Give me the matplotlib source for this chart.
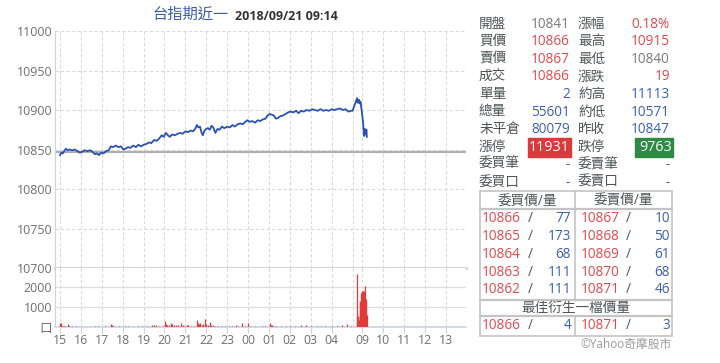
import matplotlib
matplotlib.use('Agg')
import matplotlib.pyplot as plt
from matplotlib.patches import Rectangle

plt.rcParams['font.family'] = ['Open Sans', 'Noto Sans CJK TC', 'DejaVu Sans']

title_name = '台指期近一'
title_time = '2018/09/21 09:14'
prev_close = 10847

# price line, night session 15:00-05:00 then day session 08:45-
price_times = [
    '15:00', '15:04', '15:08', '15:12', '15:17', '15:22', '15:28', '15:35', '15:42', '15:50',
    '15:57', '16:03', '16:10', '16:18', '16:26', '16:34', '16:40', '16:46', '16:52', '16:58',
    '17:05', '17:12', '17:20', '17:26', '17:32', '17:40', '17:48', '17:55', '18:02', '18:08',
    '18:15', '18:22', '18:30', '18:38', '18:45', '18:52', '19:00', '19:08', '19:16', '19:22',
    '19:30', '19:38', '19:45', '19:52', '19:58', '20:04', '20:10', '20:15', '20:22', '20:30',
    '20:38', '20:45', '20:52', '21:00', '21:08', '21:15', '21:22', '21:28', '21:33', '21:37',
    '21:42', '21:46', '21:50', '21:55', '22:00', '22:05', '22:10', '22:15', '22:20', '22:26',
    '22:32', '22:38', '22:45', '22:52', '23:00', '23:08', '23:15', '23:22', '23:30', '23:38',
    '23:45', '23:52', '23:58', '00:05', '00:12', '00:20', '00:28', '00:35', '00:42', '00:50',
    '00:56', '01:02', '01:08', '01:14', '01:20', '01:26', '01:32', '01:40', '01:48', '01:55',
    '02:02', '02:10', '02:18', '02:25', '02:32', '02:40', '02:48', '02:56', '03:04', '03:12',
    '03:20', '03:28', '03:36', '03:44', '03:52', '04:00', '04:08', '04:16', '04:24', '04:32',
    '04:40', '04:48', '04:55', '05:00',
    '08:45', '08:46', '08:47', '08:48', '08:49', '08:50', '08:51', '08:52', '08:53', '08:54',
    '08:55', '08:56', '08:57', '08:58', '08:59', '09:00', '09:01', '09:02', '09:03', '09:04',
    '09:05', '09:06', '09:07', '09:08', '09:09', '09:10', '09:11', '09:12', '09:13', '09:14',
]
price_values = [
    10843, 10846, 10845, 10848, 10851, 10849, 10850, 10849, 10850, 10848,
    10846, 10847, 10849, 10848, 10849, 10847, 10844, 10845, 10843, 10846,
    10845, 10848, 10849, 10854, 10853, 10855, 10853, 10854, 10850, 10851,
    10853, 10852, 10855, 10853, 10856, 10854, 10856, 10857, 10859, 10858,
    10862, 10861, 10864, 10868, 10866, 10871, 10868, 10866, 10869, 10868,
    10870, 10871, 10870, 10873, 10872, 10874, 10873, 10876, 10881, 10878,
    10879, 10872, 10868, 10874, 10876, 10877, 10875, 10880, 10878, 10871,
    10876, 10875, 10879, 10877, 10879, 10878, 10881, 10879, 10882, 10883,
    10882, 10885, 10887, 10885, 10886, 10884, 10887, 10886, 10888, 10889,
    10893, 10895, 10894, 10893, 10889, 10890, 10892, 10893, 10895, 10897,
    10898, 10897, 10899, 10896, 10899, 10898, 10900, 10899, 10901, 10900,
    10899, 10901, 10899, 10900, 10899, 10901, 10900, 10901, 10902, 10900,
    10901, 10898, 10899, 10899,
    10914, 10915, 10911, 10909, 10912, 10910, 10913, 10912, 10909, 10911,
    10908, 10910, 10906, 10903, 10900, 10897, 10893, 10889, 10885, 10879,
    10872, 10867, 10870, 10874, 10876, 10871, 10869, 10873, 10875, 10866,
]

vol_times = [
    '15:01', '15:03', '15:05', '15:08', '15:12', '15:15', '15:24', '15:27', '15:35', '15:45',
    '15:55', '16:05', '16:30', '16:40', '16:50', '17:00', '17:10', '17:27', '17:30', '17:35',
    '17:50', '18:06', '18:15', '18:44', '18:55', '19:10', '19:25', '19:31', '19:35', '19:45',
    '19:55', '20:02', '20:05', '20:08', '20:12', '20:19', '20:23', '20:27', '20:32', '20:38',
    '20:48', '20:52', '21:00', '21:04', '21:08', '21:15', '21:25', '21:32', '21:35', '21:38',
    '21:42', '21:47', '21:52', '21:55', '21:58', '22:04', '22:10', '22:14', '22:20', '22:25',
    '22:35', '22:45', '22:55', '23:05', '23:15', '23:25', '23:32', '23:44', '23:50', '00:01',
    '00:05', '00:20', '00:41', '00:50', '01:02', '01:05', '01:09', '01:14', '01:20', '01:35',
    '01:50', '02:00', '02:15', '02:31', '02:45', '03:00', '03:18', '03:30', '03:42', '04:00',
    '04:15', '04:29', '04:44', '04:55',
    '08:45', '08:46', '08:47', '08:48', '08:49', '08:50', '08:51', '08:52', '08:53', '08:54',
    '08:55', '08:56', '08:57', '08:58', '08:59', '09:00', '09:01', '09:02', '09:03', '09:04',
    '09:05', '09:06', '09:07', '09:08', '09:09', '09:10', '09:11', '09:12', '09:13', '09:14',
]
vol_values = [
    180, 200, 60, 50, 40, 60, 170, 50, 30, 30,
    25, 20, 20, 30, 30, 20, 30, 160, 90, 40,
    30, 70, 30, 50, 30, 30, 80, 120, 90, 40,
    60, 300, 150, 120, 80, 200, 140, 120, 90, 100,
    180, 90, 60, 110, 80, 40, 60, 330, 200, 150,
    180, 120, 160, 380, 140, 80, 260, 90, 100, 70,
    50, 50, 60, 40, 50, 80, 60, 200, 50, 210,
    60, 40, 70, 30, 210, 110, 80, 70, 40, 50,
    40, 30, 40, 110, 90, 30, 70, 30, 60, 30,
    40, 90, 130, 30,
    2650, 150, 500, 560, 520, 480, 300, 350, 1250, 1200,
    1300, 1150, 1280, 1700, 1780, 1750, 1800, 1720, 1780, 1700,
    1750, 1800, 1650, 2050, 1350, 1300, 1400, 1250, 650, 600,
]

price_ticks = [10700, 10750, 10800, 10850, 10900, 10950, 11000]
vol_ticks = [0, 1000, 2000]
vol_tick_labels = ['口', '1000', '2000']
hour_labels = ['15', '16', '17', '18', '19', '20', '21', '22', '23', '00',
               '01', '02', '03', '04', '09', '10', '11', '12', '13']

quote_labels_l = ['開盤', '買價', '賣價', '成交', '單量', '總量', '未平倉', '漲停', '委買筆', '委買口']
quote_values_l = ['10841', '10866', '10867', '10866', '2', '55601', '80079', '11931', '-', '-']
quote_labels_r = ['漲幅', '最高', '最低', '漲跌', '約高', '約低', '昨收', '跌停', '委賣筆', '委賣口']
quote_values_r = ['0.18%', '10915', '10840', '19', '11113', '10571', '10847', '9763', '-', '-']

bid_prices = [10866, 10865, 10864, 10863, 10862]
bid_qty = [77, 173, 68, 111, 111]
ask_prices = [10867, 10868, 10869, 10870, 10871]
ask_qty = [10, 50, 61, 68, 46]
best_bid = (10866, 4)
best_ask = (10871, 3)

RED = '#e5484d'
BLUE = '#3d5fb0'
GRAY = '#7a7a7a'
LABEL = '#4d5555'
LINE_BLUE = '#2a52b2'
VOL_RED = '#e03a3a'
GRID = '#dadada'
AXIS = '#c6d6ea'

colors_l = [GRAY, RED, RED, RED, BLUE, BLUE, BLUE, None, BLUE, BLUE]
colors_r = [RED, RED, GRAY, RED, BLUE, BLUE, BLUE, None, BLUE, BLUE]

DAY_START = 14.2


def to_pos(t):
    h, m = map(int, t.split(':'))
    v = h + m / 60
    if h >= 15:
        return v - 15
    if h < 8:
        return v + 9
    return DAY_START + v - 8.75


W, H = 720, 363
fig = plt.figure(figsize=(W / 100, H / 100), dpi=100)
left, right = 55 / W, 466 / W
ax = fig.add_axes([left, (H - 268) / H, right - left, (268 - 31) / H])
axv = fig.add_axes([left, (H - 327) / H, right - left, (327 - 268) / H], sharex=ax)

xlim = (-0.24, 19.43)
grid_x = [to_pos(h + ':00') for h in hour_labels] + [to_pos('05:00')]

# price panel
px = [to_pos(t) for t in price_times]
ax.plot(px, price_values, color=LINE_BLUE, lw=1.3, zorder=3)
ax.axhline(prev_close, color='#b0b0b0', lw=1.6, zorder=2)
ax.set_ylim(10700, 11000)
ax.set_xlim(*xlim)
ax.set_yticks(price_ticks)
ax.tick_params(axis='y', length=0, labelsize=9, labelcolor='#6e6e6e', pad=2)
ax.tick_params(axis='x', length=0, labelbottom=False)
for y in price_ticks[1:]:
    ax.axhline(y, color=GRID, lw=0.8, ls=(0, (3, 2)), zorder=1)
for x in grid_x:
    ax.axvline(x, color=GRID, lw=0.8, ls=(0, (3, 2)), zorder=1)
ax.axvline(xlim[1], color=GRID, lw=0.8, ls=(0, (3, 2)), zorder=1)
ax.axhline(10700, color='#cfcfcf', lw=2, zorder=2, clip_on=False)
for s in ['top', 'right', 'bottom']:
    ax.spines[s].set_visible(False)
ax.spines['left'].set_color(AXIS)

# volume panel
vx = [to_pos(t) for t in vol_times]
axv.vlines(vx, 0, vol_values, color=VOL_RED, lw=0.9, zorder=3)
axv.set_ylim(0, 2950)
axv.set_yticks(vol_ticks)
axv.set_yticklabels(vol_tick_labels)
for y in vol_ticks[1:]:
    axv.axhline(y, color='#dddddd', lw=0.9, zorder=1)
for x in grid_x:
    axv.axvline(x, color=GRID, lw=0.8, ls=(0, (3, 2)), zorder=1)
axv.axvline(xlim[1], color=GRID, lw=0.8, ls=(0, (3, 2)), zorder=1)
axv.set_xticks([to_pos(h + ':00') for h in hour_labels])
axv.set_xticklabels(hour_labels)
axv.tick_params(axis='y', length=0, labelsize=9, labelcolor='#6e6e6e', pad=2)
axv.tick_params(axis='x', length=4, color=AXIS, labelsize=8.8, labelcolor='#6e6e6e', pad=1)
for s in ['top', 'right']:
    axv.spines[s].set_visible(False)
axv.spines['left'].set_color(AXIS)
axv.spines['bottom'].set_color(AXIS)
axv.spines['bottom'].set_linewidth(1.2)

# overlay in pixel coordinates for title and quote panel
ov = fig.add_axes([0, 0, 1, 1])
ov.set_xlim(0, W)
ov.set_ylim(H, 0)
ov.axis('off')

ov.text(152, 15, title_name, color='#3a5ca8', fontsize=11, va='center', ha='left')
ov.text(235, 16, title_time, color='#333333', fontsize=9, fontweight='bold', va='center', ha='left')

fs = 9.8
row_y = [24 + i * 17.6 for i in range(len(quote_labels_l))]
for i, y in enumerate(row_y):
    ov.text(479, y, quote_labels_l[i], color=LABEL, fontsize=fs, va='center', ha='left')
    ov.text(578, y, quote_labels_r[i], color=LABEL, fontsize=fs, va='center', ha='left')
    if colors_l[i] is None:
        ov.add_patch(Rectangle((528, y - 9.5), 43, 19, color='#d93a3e'))
        ov.text(570, y, quote_values_l[i], color='white', fontsize=fs + 0.5, va='center', ha='right')
    else:
        ov.text(570, y, quote_values_l[i], color=colors_l[i], fontsize=fs, va='center', ha='right')
    if colors_r[i] is None:
        ov.add_patch(Rectangle((635, y - 9.5), 38, 19, color='#2d8a45'))
        ov.text(672, y, quote_values_r[i], color='white', fontsize=fs + 0.5, va='center', ha='right')
    else:
        ov.text(670, y, quote_values_r[i], color=colors_r[i], fontsize=fs, va='center', ha='right')

# order book table
tc = '#c4c4c4'
ov.add_patch(Rectangle((480, 191), 192, 145, fill=False, ec=tc, lw=1.2))
ov.plot([480, 672], [209, 209], color=tc, lw=1.6)
ov.plot([480, 672], [300, 300], color=tc, lw=1.6)
ov.plot([480, 672], [316, 316], color=tc, lw=1.6)
ov.plot([574.5, 574.5], [191, 300], color=tc, lw=1.2)
ov.plot([574.5, 574.5], [316, 336], color=tc, lw=1.2)
ov.text(527, 201, '委買價/量', color=LABEL, fontsize=fs, va='center', ha='center')
ov.text(623, 201, '委賣價/量', color=LABEL, fontsize=fs, va='center', ha='center')
book_y = [218.7 + i * 17.8 for i in range(len(bid_prices))]
for i, y in enumerate(book_y):
    ov.text(482, y, str(bid_prices[i]), color=RED, fontsize=fs, va='center', ha='left')
    ov.text(530, y, '/', color=LABEL, fontsize=fs, va='center', ha='center')
    ov.text(571, y, str(bid_qty[i]), color=BLUE, fontsize=fs, va='center', ha='right')
    ov.text(581, y, str(ask_prices[i]), color=RED, fontsize=fs, va='center', ha='left')
    ov.text(628, y, '/', color=LABEL, fontsize=fs, va='center', ha='center')
    ov.text(670, y, str(ask_qty[i]), color=BLUE, fontsize=fs, va='center', ha='right')
ov.text(576, 308, '最佳衍生一檔價量', color=LABEL, fontsize=fs, va='center', ha='center')
ov.text(482, 325.5, str(best_bid[0]), color=RED, fontsize=fs, va='center', ha='left')
ov.text(530, 325.5, '/', color=LABEL, fontsize=fs, va='center', ha='center')
ov.text(571, 325.5, str(best_bid[1]), color=BLUE, fontsize=fs, va='center', ha='right')
ov.text(581, 325.5, str(best_ask[0]), color=RED, fontsize=fs, va='center', ha='left')
ov.text(628, 325.5, '/', color=LABEL, fontsize=fs, va='center', ha='center')
ov.text(670, 325.5, str(best_ask[1]), color=BLUE, fontsize=fs, va='center', ha='right')
ov.text(672, 344, '©Yahoo奇摩股市', color='#9a9a9a', fontsize=8.5, va='center', ha='right')

fig.savefig('out.png', dpi=100)
